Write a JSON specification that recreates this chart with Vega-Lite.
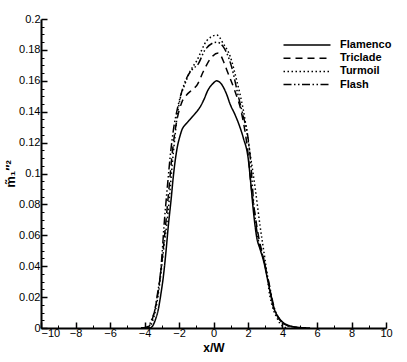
{
  "$schema": "https://vega.github.io/schema/vega-lite/v6.json",
  "width": 345,
  "height": 309,
  "autosize": "none",
  "padding": {"left": 41, "top": 19, "right": 21, "bottom": 34},
  "background": "white",
  "config": {
    "view": {"stroke": null},
    "font": "Liberation Sans"
  },
  "data": {
    "values": [
      {"x": -4.2, "y": 0, "s": "Flamenco"},
      {"x": -3.7, "y": 0, "s": "Flamenco"},
      {"x": -3.55, "y": 0.001, "s": "Flamenco"},
      {"x": -3.35, "y": 0.006, "s": "Flamenco"},
      {"x": -3.2, "y": 0.012, "s": "Flamenco"},
      {"x": -3.05, "y": 0.022, "s": "Flamenco"},
      {"x": -2.91, "y": 0.033, "s": "Flamenco"},
      {"x": -2.75, "y": 0.05, "s": "Flamenco"},
      {"x": -2.62, "y": 0.066, "s": "Flamenco"},
      {"x": -2.45, "y": 0.084, "s": "Flamenco"},
      {"x": -2.33, "y": 0.098, "s": "Flamenco"},
      {"x": -2.2, "y": 0.11, "s": "Flamenco"},
      {"x": -2.1, "y": 0.117, "s": "Flamenco"},
      {"x": -1.95, "y": 0.124, "s": "Flamenco"},
      {"x": -1.84, "y": 0.128, "s": "Flamenco"},
      {"x": -1.6, "y": 0.132, "s": "Flamenco"},
      {"x": -1.36, "y": 0.135, "s": "Flamenco"},
      {"x": -1.05, "y": 0.139, "s": "Flamenco"},
      {"x": -0.78, "y": 0.143, "s": "Flamenco"},
      {"x": -0.55, "y": 0.148, "s": "Flamenco"},
      {"x": -0.32, "y": 0.154, "s": "Flamenco"},
      {"x": -0.05, "y": 0.158, "s": "Flamenco"},
      {"x": 0.19, "y": 0.16, "s": "Flamenco"},
      {"x": 0.45, "y": 0.158, "s": "Flamenco"},
      {"x": 0.77, "y": 0.151, "s": "Flamenco"},
      {"x": 0.96, "y": 0.145, "s": "Flamenco"},
      {"x": 1.25, "y": 0.138, "s": "Flamenco"},
      {"x": 1.5, "y": 0.131, "s": "Flamenco"},
      {"x": 1.73, "y": 0.123, "s": "Flamenco"},
      {"x": 2.02, "y": 0.109, "s": "Flamenco"},
      {"x": 2.15, "y": 0.095, "s": "Flamenco"},
      {"x": 2.31, "y": 0.076, "s": "Flamenco"},
      {"x": 2.5, "y": 0.059, "s": "Flamenco"},
      {"x": 2.7, "y": 0.051, "s": "Flamenco"},
      {"x": 2.89, "y": 0.044, "s": "Flamenco"},
      {"x": 3.18, "y": 0.029, "s": "Flamenco"},
      {"x": 3.47, "y": 0.014, "s": "Flamenco"},
      {"x": 3.7, "y": 0.008, "s": "Flamenco"},
      {"x": 3.86, "y": 0.0055, "s": "Flamenco"},
      {"x": 4.1, "y": 0.003, "s": "Flamenco"},
      {"x": 4.4, "y": 0.0015, "s": "Flamenco"},
      {"x": 4.8, "y": 0.0006, "s": "Flamenco"},
      {"x": 5.2, "y": 0.0002, "s": "Flamenco"},
      {"x": 5.6, "y": 0, "s": "Flamenco"},

      {"x": -4.0, "y": 0, "s": "Triclade"},
      {"x": -3.8, "y": 0.0005, "s": "Triclade"},
      {"x": -3.6, "y": 0.004, "s": "Triclade"},
      {"x": -3.4, "y": 0.012, "s": "Triclade"},
      {"x": -3.2, "y": 0.024, "s": "Triclade"},
      {"x": -3.0, "y": 0.042, "s": "Triclade"},
      {"x": -2.8, "y": 0.064, "s": "Triclade"},
      {"x": -2.6, "y": 0.088, "s": "Triclade"},
      {"x": -2.42, "y": 0.11, "s": "Triclade"},
      {"x": -2.25, "y": 0.126, "s": "Triclade"},
      {"x": -2.13, "y": 0.134, "s": "Triclade"},
      {"x": -1.84, "y": 0.146, "s": "Triclade"},
      {"x": -1.55, "y": 0.151, "s": "Triclade"},
      {"x": -1.36, "y": 0.153, "s": "Triclade"},
      {"x": -1.15, "y": 0.155, "s": "Triclade"},
      {"x": -0.97, "y": 0.157, "s": "Triclade"},
      {"x": -0.59, "y": 0.166, "s": "Triclade"},
      {"x": -0.2, "y": 0.174, "s": "Triclade"},
      {"x": 0.28, "y": 0.178, "s": "Triclade"},
      {"x": 0.6, "y": 0.172, "s": "Triclade"},
      {"x": 0.77, "y": 0.167, "s": "Triclade"},
      {"x": 1.25, "y": 0.153, "s": "Triclade"},
      {"x": 1.63, "y": 0.139, "s": "Triclade"},
      {"x": 2.0, "y": 0.113, "s": "Triclade"},
      {"x": 2.2, "y": 0.09, "s": "Triclade"},
      {"x": 2.4, "y": 0.074, "s": "Triclade"},
      {"x": 2.6, "y": 0.06, "s": "Triclade"},
      {"x": 2.9, "y": 0.045, "s": "Triclade"},
      {"x": 3.2, "y": 0.029, "s": "Triclade"},
      {"x": 3.5, "y": 0.013, "s": "Triclade"},
      {"x": 3.8, "y": 0.006, "s": "Triclade"},
      {"x": 4.2, "y": 0.002, "s": "Triclade"},
      {"x": 4.6, "y": 0.0005, "s": "Triclade"},
      {"x": 5.0, "y": 0, "s": "Triclade"},

      {"x": -4.0, "y": 0, "s": "Turmoil"},
      {"x": -3.75, "y": 0.0005, "s": "Turmoil"},
      {"x": -3.55, "y": 0.004, "s": "Turmoil"},
      {"x": -3.35, "y": 0.012, "s": "Turmoil"},
      {"x": -3.2, "y": 0.022, "s": "Turmoil"},
      {"x": -3.0, "y": 0.04, "s": "Turmoil"},
      {"x": -2.85, "y": 0.055, "s": "Turmoil"},
      {"x": -2.72, "y": 0.066, "s": "Turmoil"},
      {"x": -2.55, "y": 0.085, "s": "Turmoil"},
      {"x": -2.4, "y": 0.105, "s": "Turmoil"},
      {"x": -2.25, "y": 0.122, "s": "Turmoil"},
      {"x": -2.13, "y": 0.135, "s": "Turmoil"},
      {"x": -1.94, "y": 0.148, "s": "Turmoil"},
      {"x": -1.65, "y": 0.158, "s": "Turmoil"},
      {"x": -1.36, "y": 0.166, "s": "Turmoil"},
      {"x": -0.97, "y": 0.173, "s": "Turmoil"},
      {"x": -0.39, "y": 0.186, "s": "Turmoil"},
      {"x": 0.19, "y": 0.1896, "s": "Turmoil"},
      {"x": 0.57, "y": 0.184, "s": "Turmoil"},
      {"x": 0.96, "y": 0.176, "s": "Turmoil"},
      {"x": 1.35, "y": 0.16, "s": "Turmoil"},
      {"x": 1.73, "y": 0.141, "s": "Turmoil"},
      {"x": 2.12, "y": 0.113, "s": "Turmoil"},
      {"x": 2.41, "y": 0.091, "s": "Turmoil"},
      {"x": 2.7, "y": 0.066, "s": "Turmoil"},
      {"x": 2.99, "y": 0.044, "s": "Turmoil"},
      {"x": 3.28, "y": 0.02, "s": "Turmoil"},
      {"x": 3.5, "y": 0.011, "s": "Turmoil"},
      {"x": 3.66, "y": 0.007, "s": "Turmoil"},
      {"x": 3.85, "y": 0.003, "s": "Turmoil"},
      {"x": 4.03, "y": 0.001, "s": "Turmoil"},
      {"x": 4.3, "y": 0, "s": "Turmoil"},

      {"x": -4.2, "y": 0, "s": "Flash"},
      {"x": -3.9, "y": 0.0005, "s": "Flash"},
      {"x": -3.78, "y": 0.001, "s": "Flash"},
      {"x": -3.6, "y": 0.005, "s": "Flash"},
      {"x": -3.39, "y": 0.012, "s": "Flash"},
      {"x": -3.25, "y": 0.022, "s": "Flash"},
      {"x": -3.1, "y": 0.033, "s": "Flash"},
      {"x": -2.98, "y": 0.048, "s": "Flash"},
      {"x": -2.87, "y": 0.066, "s": "Flash"},
      {"x": -2.75, "y": 0.082, "s": "Flash"},
      {"x": -2.62, "y": 0.098, "s": "Flash"},
      {"x": -2.52, "y": 0.11, "s": "Flash"},
      {"x": -2.42, "y": 0.12, "s": "Flash"},
      {"x": -2.3, "y": 0.13, "s": "Flash"},
      {"x": -2.13, "y": 0.14, "s": "Flash"},
      {"x": -1.84, "y": 0.153, "s": "Flash"},
      {"x": -1.55, "y": 0.162, "s": "Flash"},
      {"x": -1.26, "y": 0.167, "s": "Flash"},
      {"x": -0.88, "y": 0.171, "s": "Flash"},
      {"x": -0.49, "y": 0.18, "s": "Flash"},
      {"x": 0.19, "y": 0.185, "s": "Flash"},
      {"x": 0.57, "y": 0.182, "s": "Flash"},
      {"x": 1.05, "y": 0.169, "s": "Flash"},
      {"x": 1.44, "y": 0.15, "s": "Flash"},
      {"x": 1.75, "y": 0.136, "s": "Flash"},
      {"x": 1.95, "y": 0.127, "s": "Flash"},
      {"x": 2.15, "y": 0.108, "s": "Flash"},
      {"x": 2.35, "y": 0.078, "s": "Flash"},
      {"x": 2.55, "y": 0.06, "s": "Flash"},
      {"x": 2.9, "y": 0.045, "s": "Flash"},
      {"x": 3.2, "y": 0.03, "s": "Flash"},
      {"x": 3.5, "y": 0.014, "s": "Flash"},
      {"x": 3.8, "y": 0.006, "s": "Flash"},
      {"x": 4.2, "y": 0.002, "s": "Flash"},
      {"x": 4.8, "y": 0.0004, "s": "Flash"},
      {"x": 5.2, "y": 0, "s": "Flash"}
    ]
  },
  "mark": {"type": "line", "color": "black", "strokeWidth": 1.5, "interpolate": "monotone"},
  "encoding": {
    "x": {
      "field": "x",
      "type": "quantitative",
      "scale": {"domain": [-10, 10], "nice": false, "zero": false},
      "axis": {
        "title": "x/W",
        "titleFont": "Liberation Sans",
        "titleFontSize": 12,
        "titleFontWeight": "bold",
        "titleColor": "black",
        "titlePadding": 4,
        "values": [-10,-9.5,-9,-8.5,-8,-7.5,-7,-6.5,-6,-5.5,-5,-4.5,-4,-3.5,-3,-2.5,-2,-1.5,-1,-0.5,0,0.5,1,1.5,2,2.5,3,3.5,4,4.5,5,5.5,6,6.5,7,7.5,8,8.5,9,9.5,10],
        "labelExpr": "datum.value % 2 === 0 ? datum.label : ''",
        "format": "d",
        "grid": false,
        "domainColor": "black",
        "domainWidth": 2,
        "tickColor": "black",
        "tickWidth": {"condition": {"test": "datum.value % 2 === 0", "value": 1.5}, "value": 1},
        "tickSize": {"condition": {"test": "datum.value % 2 === 0", "value": -6}, "value": -3},
        "labelFont": "Liberation Sans",
        "labelFontSize": 11,
        "labelColor": "black",
        "labelPadding": 5,
        "labelAlign": {"condition": {"test": "datum.value === -10", "value": "left"}, "value": "center"}
      }
    },
    "y": {
      "field": "y",
      "type": "quantitative",
      "scale": {"domain": [0, 0.2], "nice": false},
      "axis": {
        "title": "m̃₁″²",
        "titleFont": "Liberation Sans",
        "titleFontSize": 13,
        "titleFontWeight": "bold",
        "titleColor": "black",
        "titlePadding": 1,
        "values": [0,0.005,0.01,0.015,0.02,0.025,0.03,0.035,0.04,0.045,0.05,0.055,0.06,0.065,0.07,0.075,0.08,0.085,0.09,0.095,0.1,0.105,0.11,0.115,0.12,0.125,0.13,0.135,0.14,0.145,0.15,0.155,0.16,0.165,0.17,0.175,0.18,0.185,0.19,0.195,0.2],
        "format": ".3~f",
        "labelExpr": "round(datum.value * 1000) % 20 === 0 ? datum.label : ''",
        "grid": false,
        "domainColor": "black",
        "domainWidth": 2,
        "tickColor": "black",
        "tickWidth": {"condition": {"test": "round(datum.value * 1000) % 20 === 0", "value": 1.5}, "value": 1},
        "tickSize": {"condition": {"test": "round(datum.value * 1000) % 20 === 0", "value": -6}, "value": -3},
        "labelFont": "Liberation Sans",
        "labelFontSize": 11,
        "labelColor": "black",
        "labelPadding": 7
      }
    },
    "strokeDash": {
      "field": "s",
      "type": "nominal",
      "scale": {
        "domain": ["Flamenco", "Triclade", "Turmoil", "Flash"],
        "range": [[1, 0], [7, 5], [1.5, 2.5], [8, 2.5, 1.5, 2.5, 1.5, 2.5]]
      },
      "legend": {
        "title": null,
        "orient": "none",
        "legendX": 260,
        "legendY": 20,
        "padding": 0,
        "symbolType": "M-4.7,0H4.7",
        "symbolSize": 100,
        "symbolStrokeColor": "black",
        "symbolStrokeWidth": 1.5,
        "labelFont": "Liberation Sans",
        "labelFontSize": 11,
        "labelFontWeight": "bold",
        "labelColor": "black",
        "labelOffset": 27,
        "rowPadding": 2.2
      }
    }
  }
}
